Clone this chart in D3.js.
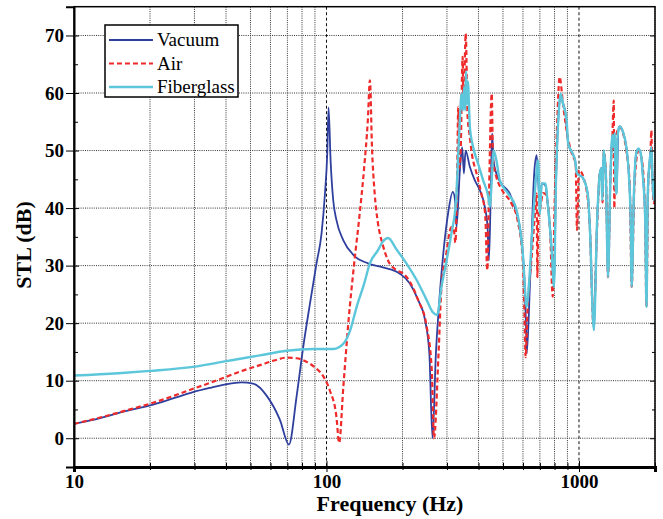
<!DOCTYPE html>
<html>
<head>
<meta charset="utf-8">
<script src="https://cdn.jsdelivr.net/npm/d3@7"></script>
<style>
  body { margin: 0; background: #fff; }
  svg { display: block; }
  text { font-family: "Liberation Serif", "Times New Roman", serif; }
</style>
</head>
<body>
<div id="chart"></div>
<script>
// STL curves, [frequency Hz, STL dB]
const vacuum = [[10,2.5],[12.7,3.5],[16,4.7],[20,5.7],[25,7.0],[29.6,8.0],[35,8.8],[40.2,9.4],[46,9.7],[51.2,9.5],[57.9,7.4],[65.4,3.2],[71,-1.1],[76.1,7.2],[80.9,15.9],[86,23.4],[91.3,30.4],[95.6,35.6],[98.6,42.5],[100.7,49.5],[101.9,57.5],[103.8,48.3],[106.3,41.4],[109.5,37.9],[116.6,34.4],[128.3,31.8],[145.8,30.4],[167.3,29.7],[195.3,28.6],[213.9,26.9],[230.7,24.0],[245.7,20.5],[255.5,14.7],[262.9,0],[271.2,14.7],[277.8,22],[290.1,32.1],[302.9,39.0],[316.4,42.8],[323,41.4],[327.3,36.7],[337.5,46.6],[344.7,50.6],[350,46],[355.6,50],[369.6,47.2],[386.9,44.8],[405,43.1],[423.7,40.2],[434.3,36.7],[439.7,30.9],[446.1,40.2],[452.9,53],[458.6,48.3],[470.7,46],[491.5,44.3],[532,42.5],[561.5,39.6],[590,35],[608,27.5],[616,20.5],[621,14.7],[638.8,26.3],[666,46.6],[680,49.2],[700,40.2],[712,44.3],[735,44],[754,40.2],[781,32.1],[796,26.3],[810,43.7],[834,57.6],[846,59.6],[864,58.2],[880,57],[907,51.2],[943,49.5],[965,48.3],[982,46],[1030,45.4],[1083,42.5],[1104,36.7],[1145,18.8],[1180,37.9],[1209,46],[1227,47],[1240,42],[1253,49.5],[1277,46],[1303,28],[1331,44.8],[1356,52.5],[1385,53],[1409,42.5],[1431,53.5],[1450,54.2],[1494,53.2],[1540,50.6],[1575,46],[1602,37.9],[1617,26.3],[1650,42.5],[1685,49.5],[1719,50.3],[1756,49.5],[1792,45.4],[1830,37.9],[1850,22.8],[1873,42.5],[1906,48.3],[1935,50.6],[1954,45.4],[1976,41.4],[2000,45]];

const air = [[10,2.5],[12.7,3.6],[16,4.8],[20,6.0],[25,7.4],[29.6,8.6],[35,9.7],[40.2,10.7],[47,11.8],[54.5,12.7],[62,13.5],[69.4,14.0],[76,13.9],[83.3,13.3],[90,12.3],[97.3,10.7],[103.1,8.3],[109.5,3.7],[112.2,-0.8],[116.6,8.9],[122.3,20.5],[128.3,29.8],[134.5,37.9],[141.1,47.2],[145.8,55.3],[148.6,62.2],[151.4,50.6],[155.2,42.5],[160,37.3],[166.6,33.8],[175.3,30.9],[189.4,29.2],[201.5,28.6],[213.9,27.2],[230.7,24],[249.4,19.4],[261.2,11.8],[266.5,0],[277.8,14.7],[285.3,26.3],[298,32],[312.5,36.7],[320,36],[324,34],[329,45],[332.6,57.6],[336,47],[340,50],[346,66.3],[349,58],[356,70.3],[362,56],[368,53],[376.3,49.5],[393,46],[410.5,42.5],[425,39],[433.3,29.2],[439,40],[451.3,59.9],[456.6,48.3],[470.7,45.4],[496.3,43.1],[540,40.8],[571,37.9],[599,30.9],[608,22],[614.5,14.1],[625,22],[651,32.1],[672,40],[680,42.5],[684,28],[690,38],[704,40.2],[720,42.6],[735,42.5],[767,36.7],[787,24.6],[800,40],[820,55],[838,62.8],[864,58.2],[893,53.5],[936,49.5],[970,47.7],[982,36.2],[999,46.6],[1065,43.7],[1104,36.7],[1140,20],[1180,37],[1209,46],[1227,46.6],[1240,41],[1253,49.8],[1277,46.6],[1303,28],[1331,44.8],[1356,52.4],[1373,58.7],[1380,40],[1395,52],[1450,54.1],[1494,53],[1540,50],[1589,43.7],[1617,26.3],[1657,43.7],[1719,50],[1775,48.3],[1830,37.9],[1848,23],[1882,44.8],[1917,48.9],[1935,53.5],[1950,46],[1982,40.8],[2000,45]];

const fiberglass = [[10,10.9],[15,11.3],[20,11.7],[29.6,12.4],[40.2,13.4],[54.5,14.4],[69.4,15.2],[88.7,15.5],[106.3,15.5],[112,15.8],[116.6,16.4],[124.2,18.8],[131.6,22.8],[141.1,26.9],[148.5,30.4],[160,32.7],[167.3,34.2],[175.3,34.8],[189.4,32.8],[207.2,30.4],[227.5,27.5],[249.4,24],[263.8,21.9],[274,21.4],[285.3,26.3],[299,30.9],[312.5,35.6],[326,41.4],[332.6,49.5],[337.5,55.3],[342.7,59.9],[347,57],[350.7,61],[354,57],[357,63.8],[360,58],[363,62],[369.6,54.1],[380.9,50.6],[398.5,47.7],[417.3,44.8],[437.6,41.9],[443.6,40.2],[449.8,43.7],[459,50],[470.7,48.3],[486,44.8],[524,42.5],[561.5,40.2],[599,32.1],[621,22.8],[632,26],[651,35],[672,44],[689,48.3],[700,39],[712,44.3],[735,44.3],[754,40.2],[781,32.1],[796,26.3],[810,43.7],[834,57.6],[846,59.9],[864,58.2],[893,55.3],[907,51.2],[943,49.5],[965,48.3],[982,46],[1030,45.4],[1083,42.5],[1104,36.7],[1145,18.8],[1180,37.9],[1209,46],[1227,46.9],[1236,41.4],[1253,50],[1277,46],[1303,28],[1331,44.8],[1356,52.7],[1373,50.6],[1385,53],[1395,44],[1409,42.5],[1420,52],[1431,53.5],[1450,54.2],[1494,53.2],[1540,50.6],[1575,46],[1602,37.9],[1617,26.3],[1650,42.5],[1685,49.5],[1719,50.3],[1756,49.5],[1792,45.4],[1830,37.9],[1850,22.8],[1873,42.5],[1906,48.3],[1935,50.6],[1954,45.4],[1976,41.4],[2000,45]];

const seriesNames = ["Vacuum", "Air", "Fiberglass"];
const seriesColors = ["#2f3f9e", "#ee2a2a", "#5cc6da"];
const yMajor = [0, 10, 20, 30, 40, 50, 60, 70];
const yMinor = [5, 15, 25, 35, 45, 55, 65];
const xMajor = [10, 100, 1000];
const xMinor = [20, 30, 40, 50, 60, 70, 80, 90, 200, 300, 400, 500, 600, 700, 800, 900, 2000];

const width = 663, height = 519;
const pLeft = 74, pRight = 655, pTop = 6.7, pBottom = 467;

const x = d3.scaleLog().domain([10, 2000]).range([pLeft, pRight]);
const y = d3.scaleLinear().domain([-5, 75]).range([pBottom, pTop]);

const svg = d3.select("#chart").append("svg")
  .attr("width", width)
  .attr("height", height);

// grid
const grid = svg.append("g");
grid.selectAll(".hg").data(yMajor).join("line")
  .attr("x1", pLeft).attr("x2", pRight)
  .attr("y1", d => y(d)).attr("y2", d => y(d))
  .attr("stroke", "#333").attr("stroke-width", 1)
  .attr("stroke-dasharray", "1,1.2");
grid.selectAll(".vg").data(xMinor).join("line")
  .attr("x1", d => x(d)).attr("x2", d => x(d))
  .attr("y1", pTop).attr("y2", pBottom)
  .attr("stroke", "#333").attr("stroke-width", 1)
  .attr("stroke-dasharray", "1,1.2");
grid.selectAll(".vmg").data([100, 1000]).join("line")
  .attr("x1", d => x(d)).attr("x2", d => x(d))
  .attr("y1", pTop).attr("y2", pBottom)
  .attr("stroke", "#111").attr("stroke-width", 1)
  .attr("stroke-dasharray", "3,2.5");

// curves
svg.append("clipPath").attr("id", "clip")
  .append("rect").attr("x", pLeft).attr("y", pTop)
  .attr("width", pRight - pLeft).attr("height", pBottom - pTop);

const line = d3.line()
  .x(d => x(d[0]))
  .y(d => y(d[1]))
  .curve(d3.curveMonotoneX);

const plot = svg.append("g").attr("clip-path", "url(#clip)");
plot.append("path").datum(vacuum)
  .attr("fill", "none").attr("stroke", seriesColors[0])
  .attr("stroke-width", 1.8).attr("d", line);
plot.append("path").datum(air)
  .attr("fill", "none").attr("stroke", seriesColors[1])
  .attr("stroke-width", 2.2).attr("stroke-dasharray", "5,3").attr("d", line);
plot.append("path").datum(fiberglass)
  .attr("fill", "none").attr("stroke", seriesColors[2])
  .attr("stroke-width", 2.4).attr("d", line);

// frame
svg.append("rect")
  .attr("x", pLeft).attr("y", pTop)
  .attr("width", pRight - pLeft).attr("height", pBottom - pTop)
  .attr("fill", "none").attr("stroke", "#000").attr("stroke-width", 1.5);

// left axis
const yAxis = svg.append("g").attr("transform", `translate(${pLeft},0)`)
  .call(d3.axisLeft(y).tickValues(yMajor).tickSize(8).tickPadding(2));
yAxis.select(".domain").attr("stroke-width", 2);
yAxis.selectAll("text").attr("font-size", 19).attr("font-weight", "bold")
  .attr("font-family", "Liberation Serif, serif");
svg.append("g").attr("transform", `translate(${pLeft},0)`)
  .call(d3.axisRight(y).tickValues(yMajor).tickSize(5).tickFormat(""))
  .select(".domain").remove();
svg.append("g").attr("transform", `translate(${pLeft},0)`)
  .call(d3.axisRight(y).tickValues(yMinor).tickSize(4).tickFormat(""))
  .select(".domain").remove();
// right axis ticks
svg.append("g").attr("transform", `translate(${pRight},0)`)
  .call(d3.axisLeft(y).tickValues(yMajor).tickSize(5).tickFormat(""))
  .select(".domain").remove();
svg.append("g").attr("transform", `translate(${pRight},0)`)
  .call(d3.axisLeft(y).tickValues(yMinor).tickSize(3).tickFormat(""))
  .select(".domain").remove();

// bottom axis
const xAxis = svg.append("g").attr("transform", `translate(0,${pBottom})`)
  .call(d3.axisBottom(x).tickValues(xMajor).tickSize(5).tickPadding(3)
    .tickFormat(d3.format("d")));
xAxis.select(".domain").attr("stroke-width", 3);
xAxis.selectAll("text").attr("font-size", 19).attr("font-weight", "bold")
  .attr("font-family", "Liberation Serif, serif");
svg.append("g").attr("transform", `translate(0,${pBottom})`)
  .call(d3.axisTop(x).tickValues(xMajor).tickSize(6).tickFormat(""))
  .select(".domain").remove();
svg.append("g").attr("transform", `translate(0,${pBottom})`)
  .call(d3.axisTop(x).tickValues(xMinor).tickSize(4).tickFormat(""))
  .select(".domain").remove();
svg.append("g").attr("transform", `translate(0,${pBottom})`)
  .call(d3.axisBottom(x).tickValues(xMinor).tickSize(3).tickFormat(""))
  .select(".domain").remove();

// axis titles
svg.append("text")
  .attr("x", 390).attr("y", 511)
  .attr("text-anchor", "middle")
  .attr("font-size", 22).attr("font-weight", "bold")
  .text("Frequency (Hz)");
svg.append("text")
  .attr("transform", "translate(31,245) rotate(-90)")
  .attr("text-anchor", "middle")
  .attr("font-size", 22).attr("font-weight", "bold")
  .text("STL (dB)");

// legend
const legend = svg.append("g").attr("transform", "translate(105,25)");
legend.append("rect")
  .attr("width", 133).attr("height", 72)
  .attr("fill", "#fff").attr("stroke", "#000").attr("stroke-width", 1.5);
seriesNames.forEach((name, i) => {
  const ly = 15 + i * 23.5;
  legend.append("line")
    .attr("x1", 4).attr("x2", 48).attr("y1", ly).attr("y2", ly)
    .attr("stroke", seriesColors[i])
    .attr("stroke-width", i === 0 ? 1.8 : i === 1 ? 2.2 : 2.4)
    .attr("stroke-dasharray", i === 1 ? "5,3" : null);
  legend.append("text")
    .attr("x", 52).attr("y", ly + 6)
    .attr("font-size", 19)
    .text(name);
});
</script>
</body>
</html>
